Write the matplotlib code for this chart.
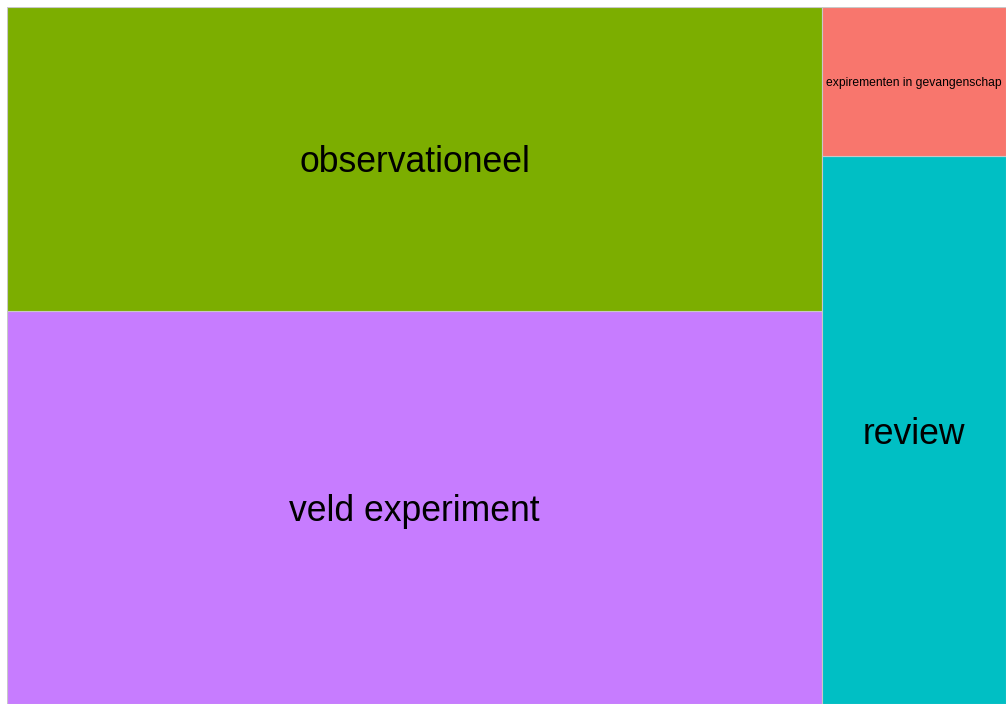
import matplotlib
matplotlib.use("Agg")
import matplotlib.pyplot as plt
from matplotlib.patches import Rectangle

# study design counts
labels = ["veld experiment", "observationeel", "review", "expirementen in gevangenschap"]
counts = [35, 27, 11, 3]
colors = {
    "expirementen in gevangenschap": "#F8766D",
    "observationeel": "#7CAE00",
    "review": "#00BFC4",
    "veld experiment": "#C77CFF",
}
font_sizes = {
    "veld experiment": 25.6,
    "observationeel": 25.6,
    "review": 25.6,
    "expirementen in gevangenschap": 8.7,
}


def worst(row, side):
    s = sum(row)
    w = s / side
    return max(max(side * r / s / w, w / (side * r / s)) for r in row)


def squarify(values, x, y, w, h):
    # squarified layout in unit square, filling from bottom-left
    rects = []
    vals = list(values)
    while vals:
        side = min(w, h)
        row = [vals.pop(0)]
        while vals and worst(row + [vals[0]], side) <= worst(row, side):
            row.append(vals.pop(0))
        s = sum(row)
        if w >= h:
            rw = s / h
            yy = y
            for r in row:
                rh = r / rw
                rects.append((x, yy, rw, rh))
                yy += rh
            x += rw
            w -= rw
        else:
            rh = s / w
            xx = x
            for r in row:
                rw = r / rh
                rects.append((xx, y, rw, rh))
                xx += rw
            y += rh
            h -= rh
    return rects


total = float(sum(counts))
rects = squarify([c / total for c in counts], 0, 0, 1, 1)

fig = plt.figure(figsize=(10.06, 7.04), dpi=100)
ax = fig.add_axes([7 / 1006, 0, 999 / 1006, 697 / 704])
ax.set_xlim(0, 1)
ax.set_ylim(0, 1)
ax.axis("off")

for lab, (x, y, w, h) in zip(labels, rects):
    ax.add_patch(Rectangle((x, y), w, h, facecolor=colors[lab],
                           edgecolor="#c8c8c8", linewidth=0.8))
    fs = font_sizes[lab]
    ax.annotate(lab, (x + w / 2, y + h / 2), xytext=(0, -0.38 * fs),
                textcoords="offset points", ha="center", va="baseline",
                fontsize=fs, family="Liberation Sans", color="black")

fig.savefig("out.png", dpi=100)
